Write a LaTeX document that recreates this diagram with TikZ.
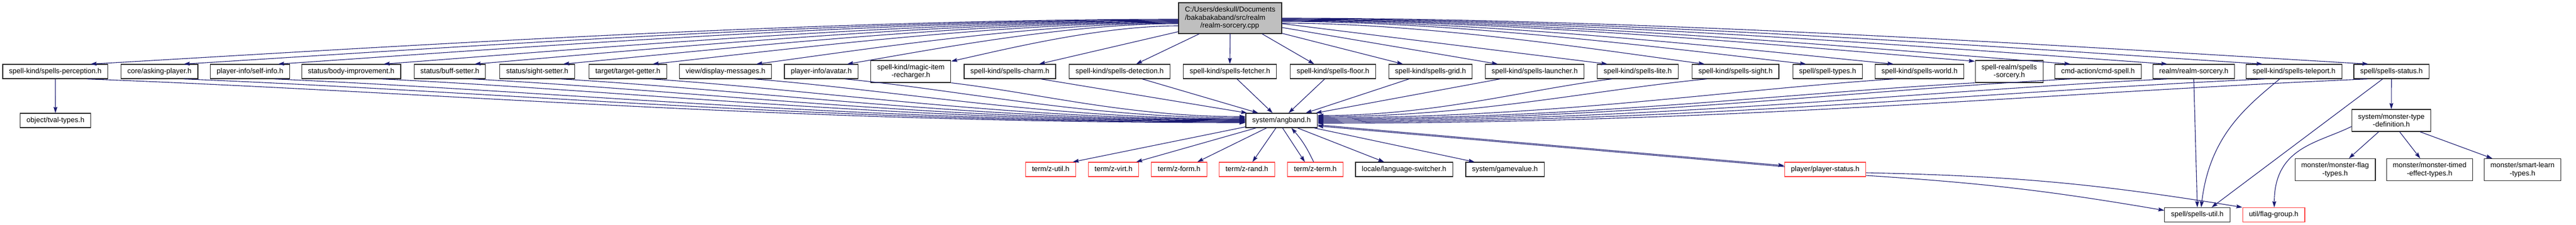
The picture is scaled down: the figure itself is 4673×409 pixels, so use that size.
\documentclass[tikz,border=0pt]{standalone}
\usepackage{fontspec}
\setmainfont{Liberation Sans}
\usetikzlibrary{arrows.meta,calc}

\definecolor{edgeblue}{RGB}{25,25,112}
\definecolor{rootgray}{RGB}{191,191,191}
\definecolor{missred}{RGB}{255,64,64}

\tikzset{
  hfile/.style={draw=black!85, line width=1.2pt, fill=white, font=\fontsize{13}{14.5}\selectfont,
    inner xsep=11.5pt, inner ysep=0pt, minimum height=26pt, text height=9.5pt, text depth=3pt},
  hfile2/.style={draw=black!85, line width=1.2pt, fill=white, font=\fontsize{13}{14.5}\selectfont,
    inner xsep=11.5pt, inner ysep=4pt, minimum height=40pt, align=center},
  nodoc/.style={draw=missred},
  incl/.style={draw=edgeblue, line width=1.1pt, -{Stealth[length=11pt,width=7pt,inset=1.5pt]}}
}

\begin{document}
\begin{tikzpicture}[x=1pt,y=1pt]
    \useasboundingbox (0,0) rectangle (4673,-409);
    \fill[white] (0,0) rectangle (4673,-409);

    \node[hfile2, fill=rootgray, align=left, minimum height=56pt] (main) at (2231.5,-33)
        {C:/Users/deskull/Documents\\/bakabakaband/src/realm\\\hspace*{28pt}/realm-sorcery.cpp};

    \node[hfile] (perc) at (100.3,-130) {spell-kind/spells-perception.h};
    \node[hfile] (asking) at (289.3,-130) {core/asking-player.h};
    \node[hfile] (selfinfo) at (453.5,-130) {player-info/self-info.h};
    \node[hfile] (bodyimp) at (637,-130) {status/body-improvement.h};
    \node[hfile] (buff) at (816,-130) {status/buff-setter.h};
    \node[hfile] (sight) at (974.6,-130) {status/sight-setter.h};
    \node[hfile] (target) at (1139,-130) {target/target-getter.h};
    \node[hfile] (dispmsg) at (1316,-130) {view/display-messages.h};
    \node[hfile] (avatar) at (1489.8,-130) {player-info/avatar.h};
    \node[hfile2] (recharger) at (1652.3,-130) {spell-kind/magic-item\\-recharger.h};
    \node[hfile] (charm) at (1832,-130) {spell-kind/spells-charm.h};
    \node[hfile] (detect) at (2031,-130) {spell-kind/spells-detection.h};
    \node[hfile] (fetcher) at (2231,-130) {spell-kind/spells-fetcher.h};
    \node[hfile] (floor) at (2418,-130) {spell-kind/spells-floor.h};
    \node[hfile] (grid) at (2595,-130) {spell-kind/spells-grid.h};
    \node[hfile] (launcher) at (2784,-130) {spell-kind/spells-launcher.h};
    \node[hfile] (lite) at (2970.8,-130) {spell-kind/spells-lite.h};
    \node[hfile] (ksight) at (3148.3,-130) {spell-kind/spells-sight.h};
    \node[hfile] (spelltypes) at (3315.3,-130) {spell/spell-types.h};
    \node[hfile] (world) at (3482,-130) {spell-kind/spells-world.h};
    \node[hfile2] (sorcery) at (3644.8,-130) {spell-realm/spells\\-sorcery.h};
    \node[hfile] (cmdspell) at (3805.8,-130) {cmd-action/cmd-spell.h};
    \node[hfile] (realm) at (3979.6,-130) {realm/realm-sorcery.h};
    \node[hfile] (teleport) at (4161.4,-130) {spell-kind/spells-teleport.h};
    \node[hfile] (status) at (4338.2,-130) {spell/spells-status.h};

    \node[hfile] (tval) at (100.6,-219) {object/tval-types.h};
    \node[hfile] (angband) at (2324.6,-219) {system/angband.h};
    \node[hfile2] (montype) at (4338,-219) {system/monster-type\\-definition.h};

    \node[hfile, nodoc] (zutil) at (1906,-308) {term/z-util.h};
    \node[hfile, nodoc] (zvirt) at (2020,-308) {term/z-virt.h};
    \node[hfile, nodoc] (zform) at (2139,-308) {term/z-form.h};
    \node[hfile, nodoc] (zrand) at (2262,-308) {term/z-rand.h};
    \node[hfile, nodoc] (zterm) at (2386,-308) {term/z-term.h};
    \node[hfile] (langsw) at (2547,-308) {locale/language-switcher.h};
    \node[hfile] (gamevalue) at (2730,-308) {system/gamevalue.h};
    \node[hfile, nodoc] (pstatus) at (3311,-308) {player/player-status.h};
    \node[hfile2] (monflag) at (4236,-308.5) {monster/monster-flag\\-types.h};
    \node[hfile2] (montimed) at (4407.4,-308.5) {monster/monster-timed\\-effect-types.h};
    \node[hfile2] (smartlearn) at (4576,-308.5) {monster/smart-learn\\-types.h};

    \node[hfile] (spellsutil) at (3986,-390.5) {spell/spells-util.h};
    \node[hfile, nodoc] (flaggroup) at (4124.6,-390.5) {util/flag-group.h};

    \foreach \fn/\sa/\sb in {perc/-2pt/64pt, asking/-3pt/44pt, selfinfo/-4pt/51pt, bodyimp/-5pt/59pt,
        buff/-6pt/45pt, sight/-7pt/47pt, target/-8pt/45pt, dispmsg/-9pt/56pt, avatar/-10pt/47pt}
        \draw[incl] let \p1=([yshift=\sa]main.west), \p2=([xshift=\sb]\fn.north) in
            (\p1) .. controls +({-0.35*(\x1-\x2)},0) and +({0.22*(\x1-\x2)},{0.3*(\y1-\y2)}) .. (\p2);
    \foreach \fn/\sa/\sb in {ksight/-9pt/-56pt, spelltypes/-6pt/-39pt, world/-5pt/-47pt, cmdspell/-3pt/-50pt,
        realm/-2pt/-48pt, teleport/-1pt/-57pt, status/0pt/-42pt}
        \draw[incl] let \p1=([yshift=\sa]main.east), \p2=([xshift=\sb]\fn.north) in
            (\p1) .. controls +({0.35*(\x2-\x1)},0) and +({-0.22*(\x2-\x1)},{0.3*(\y1-\y2)}) .. (\p2);
    \draw[incl] ([yshift=-14pt]main.west) .. controls +(-144,0) and +(91,20) .. ([yshift=-2pt]recharger.north east);
    \draw[incl] ([yshift=4pt]main.south west) -- ([xshift=53pt]charm.north);
    \draw[incl] ([xshift=-56pt]main.south) -- ([xshift=30pt]detect.north);
    \draw[incl] (main.south) -- (fetcher.north);
    \draw[incl] ([xshift=58pt]main.south) -- ([xshift=-34pt]floor.north);
    \draw[incl] ([yshift=1pt]main.south east) -- ([xshift=-50pt]grid.north);
    \draw[incl] ([yshift=-17pt]main.east) -- ([xshift=-67pt]launcher.north);
    \draw[incl] ([yshift=-10pt]main.east) -- ([xshift=-55pt]lite.north);
    \draw[incl] ([yshift=-4pt]main.east) .. controls +(441,0) and +(-277,22) .. ([yshift=-2pt]sorcery.north west);

    \foreach \fn/\sa/\sb in {perc/57pt/-4pt, asking/44pt/-3pt, selfinfo/44pt/-2pt, bodyimp/56pt/-1pt,
        buff/41pt/0pt, sight/43pt/1pt, target/43pt/2pt, dispmsg/52pt/3pt, avatar/43pt/5pt}
        \draw[incl] let \p1=([xshift=\sa]\fn.south), \p2=([yshift=\sb]angband.west) in
            (\p1) .. controls +({0.3*(\x2-\x1)},{-0.3*(\y1-\y2)}) and +({-0.4*(\x2-\x1)},0) .. (\p2);
    \foreach \fn/\sa/\sb in {lite/-47pt/9pt, ksight/-52pt/7pt, world/-47pt/5pt, cmdspell/-50pt/1pt,
        realm/-48pt/-1pt, teleport/-53pt/-3pt, status/-43pt/-5pt}
        \draw[incl] let \p1=([xshift=\sa]\fn.south), \p2=([yshift=\sb]angband.east) in
            (\p1) .. controls +({-0.3*(\x1-\x2)},{-0.3*(\y1-\y2)}) and +({0.4*(\x1-\x2)},0) .. (\p2);
    \draw[incl] (recharger.south east) .. controls +(160,-19) and +(-214,0) .. ([yshift=7pt]angband.west);
    \draw[incl] ([xshift=56pt]charm.south) -- ([xshift=3pt]angband.north west);
    \draw[incl] ([xshift=41pt]detect.south) -- ([xshift=-42pt]angband.north);
    \draw[incl] ([xshift=13pt]fetcher.south) -- ([xshift=-16pt]angband.north);
    \draw[incl] ([xshift=-15pt]floor.south) -- ([xshift=13pt]angband.north);
    \draw[incl] ([xshift=-39pt]grid.south) -- ([xshift=44pt]angband.north);
    \draw[incl] ([xshift=-63pt]launcher.south) -- ([xshift=-3pt]angband.north east);
    \draw[incl] (sorcery.south west) .. controls +(-359,-20) and +(478,0) .. ([yshift=3pt]angband.east);

    \draw[incl] ([yshift=2pt]angband.south west) -- ([xshift=40pt]zutil.north);
    \draw[incl] ([xshift=-46pt]angband.south) -- ([xshift=41pt]zvirt.north);
    \draw[incl] ([xshift=-27pt]angband.south) -- ([xshift=33pt]zform.north);
    \draw[incl] ([xshift=-10pt]angband.south) -- ([xshift=10pt]zrand.north);
    \draw[incl] ([xshift=2pt]angband.south) -- ([xshift=-19pt]zterm.north);
    \draw[incl] ([xshift=-3pt]zterm.north) to[bend right=8] ([xshift=18pt]angband.south);
    \draw[incl] ([xshift=29pt]angband.south) -- ([xshift=-36pt]langsw.north);
    \draw[incl] ([xshift=-6pt]angband.south east) -- ([xshift=-55pt]gamevalue.north);
    \draw[incl] ([yshift=-8pt]angband.east) -- ([yshift=7pt]pstatus.west);
    \draw[incl] ([yshift=5pt]pstatus.west) -- ([yshift=-10pt]angband.east);

    \draw[incl] ([yshift=-6pt]pstatus.east) to[bend left=4] (flaggroup.north west);
    \draw[incl] ([yshift=-11pt]pstatus.east) to[bend left=3] ([yshift=8pt]spellsutil.west);
    \draw[incl] (realm.south) -- (spellsutil.north);
    \draw[incl] ([xshift=-26pt]teleport.south) .. controls +(-60,-50) and +(15,130) .. ([xshift=7pt]spellsutil.north);
    \draw[incl] ([xshift=-16pt]status.south) -- ([xshift=26pt]spellsutil.north);
    \draw[incl] (status.south) -- (montype.north);
    \draw[incl] ([yshift=-11pt]montype.west) .. controls +(-60,-30) and +(0,110) .. ([xshift=1pt]flaggroup.north);
    \draw[incl] ([xshift=-23pt]montype.south) -- ([xshift=25pt]monflag.north);
    \draw[incl] ([xshift=15pt]montype.south) -- ([xshift=-17pt]montimed.north);
    \draw[incl] ([xshift=52pt]montype.south) -- ([xshift=-55pt]smartlearn.north);
    \draw[incl] (perc.south) -- (tval.north);
\end{tikzpicture}
\end{document}
